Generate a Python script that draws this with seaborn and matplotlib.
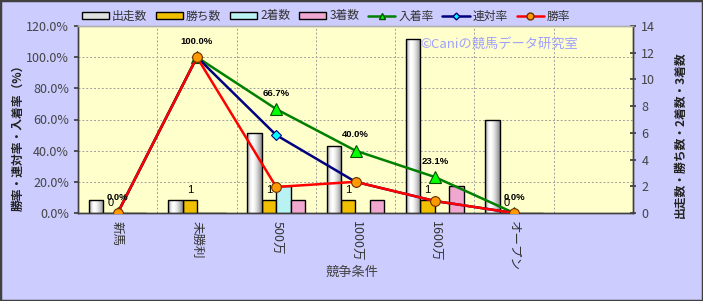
import numpy as np
import pandas as pd
import matplotlib
matplotlib.use("Agg")
import matplotlib.pyplot as plt
import seaborn as sns
from matplotlib.patches import Rectangle, Patch
from matplotlib.lines import Line2D

# ---- data ----
categories = ["新馬", "未勝利", "500万", "1000万", "1600万", "オープン"]
starts = [1, 1, 6, 5, 13, 7]
wins = [0, 1, 1, 1, 1, 0]
seconds = [0, 0, 2, 0, 0, 0]
thirds = [0, 0, 1, 1, 2, 0]
place_rate = [0.0, 100.0, 66.7, 40.0, 23.1, 0.0]
quinella_rate = [0.0, 100.0, 50.0, 20.0, 7.7, 0.0]
win_rate = [0.0, 100.0, 16.7, 20.0, 7.7, 0.0]
bar_series = ["出走数", "勝ち数", "2着数", "3着数"]
line_series = ["入着率", "連対率", "勝率"]
left_ticks = [0, 20, 40, 60, 80, 100, 120]
right_ticks = [0, 2, 4, 6, 8, 10, 12, 14]

bar_colors = ["#E0E0E0", "#F0C000", "#B8F2F2", "#F0A8D0"]

sns.set_theme(style="white")
plt.rcParams["font.family"] = ["Noto Sans CJK JP", "DejaVu Sans"]
plt.rcParams["axes.unicode_minus"] = False

W, H = 703, 301
fig = plt.figure(figsize=(W / 100, H / 100), dpi=100, facecolor="#CCCCFF")
L, R, T, B = 78, 633, 26, 213
ax = fig.add_axes([L / W, 1 - B / H, (R - L) / W, (B - T) / H])
ax.set_facecolor("#FFFFCC")
ax2 = ax.twinx()
ax3 = ax.twinx()

# ---- bars (right axis) ----
df = pd.DataFrame({
    "cat": categories * 4,
    "series": np.repeat(bar_series, len(categories)),
    "value": starts + wins + seconds + thirds,
})
sns.barplot(data=df, x="cat", y="value", hue="series", order=categories,
            hue_order=bar_series, palette=bar_colors, saturation=1,
            width=0.725, ax=ax2, edgecolor="black", linewidth=1.0,
            legend=False, errorbar=None)

# cylinder-like gradient for 出走数
grad = np.array([[0.62, 0.82, 0.95, 1.0, 0.98, 0.93, 0.86, 0.78, 0.68, 0.58]])
for p in ax2.containers[0]:
    x0, y0, w, h = p.get_x(), p.get_y(), p.get_width(), p.get_height()
    if h > 0:
        im = ax2.imshow(grad, extent=[x0, x0 + w, y0, y0 + h], aspect="auto",
                        cmap="gray", vmin=0, vmax=1, interpolation="bilinear",
                        zorder=p.get_zorder() + 0.01)
        im.set_clip_path(p)
        p.set_facecolor("none")
        p.set_zorder(p.get_zorder() + 0.02)

# count labels above 勝ち数 bars
for p, v in zip(ax2.containers[1], wins):
    ax2.annotate(f"{v}", (p.get_x() + p.get_width() / 2, p.get_height()),
                 xytext=(0, 7), textcoords="offset points", ha="center",
                 va="center", fontsize=8, color="black",
                 family=["Liberation Sans", "DejaVu Sans"])

ax2.set_ylim(0, 14)
ax2.set_yticks(right_ticks)
ax2.set_yticklabels([str(t) for t in right_ticks])
ax2.set_ylabel("")
ax2.set_xlabel("")

# ---- lines (left axis scale) ----
xs = np.arange(len(categories))
sns.lineplot(x=xs, y=place_rate, ax=ax3, color="#008000", linewidth=1.8,
             marker="^", markersize=8, markerfacecolor="#00FF00",
             markeredgecolor="#005000", markeredgewidth=0.8)
sns.lineplot(x=xs, y=quinella_rate, ax=ax3, color="#000080", linewidth=1.8,
             marker="D", markersize=5, markerfacecolor="#00FFFF",
             markeredgecolor="#000080", markeredgewidth=0.8)
sns.lineplot(x=xs, y=win_rate, ax=ax3, color="#FF0000", linewidth=1.8,
             marker="o", markersize=7, markerfacecolor="#FF9900",
             markeredgecolor="#703000", markeredgewidth=0.8)
for x, v in zip(xs, place_rate):
    ax3.annotate(f"{v:.1f}%", (x, v), xytext=(0, 11.5),
                 textcoords="offset points", ha="center", va="center",
                 fontsize=6.8, fontweight="bold", color="black",
                 family=["Liberation Sans", "DejaVu Sans"])
ax3.set_ylim(0, 120)
ax3.set_axis_off()

# ---- main axis styling ----
ax.set_ylim(0, 120)
ax.set_yticks(left_ticks)
ax.set_yticklabels([f"{t:.1f}%" for t in left_ticks])
ax.set_xlim(-0.5, 6.5)
ax.set_xticks(xs)
ax.set_xticklabels(categories, rotation=-90, va="top", ha="center")
ax.set_xticks(np.arange(0.5, 6.5, 1), minor=True)
ax.grid(False)
ax.grid(True, which="major", axis="y", color="#A0A0A0", linestyle=(0, (2, 2)), linewidth=0.7)
ax.grid(True, which="minor", axis="x", color="#A0A0A0", linestyle=(0, (2, 2)), linewidth=0.7)
ax.tick_params(axis="x", which="both", length=0, pad=6, labelsize=9, labelcolor="#333333")
ax.tick_params(axis="y", length=3, direction="out", labelsize=9, labelcolor="#444444", color="#404040", left=True)
ax2.tick_params(axis="y", length=4, direction="inout", labelsize=9, labelcolor="#444444", color="#404040", right=True, pad=4)
for a in (ax, ax2):
    for s in a.spines.values():
        s.set_color("#404040")
        s.set_linewidth(1.0)
    a.spines["top"].set_color("#B0B0B0")
ax2.set_xlim(-0.5, 6.5)
ax3.set_xlim(-0.5, 6.5)

# ---- texts ----
fig.text(18 / W, 1 - 135 / H, "勝率・連対率・入着率（%）", rotation=90, ha="center",
         va="center", fontsize=8.5, fontweight="bold", color="#222222")
fig.text(680 / W, 1 - 135 / H, "出走数・勝ち数・2着数・3着数", rotation=90, ha="center",
         va="center", fontsize=8.5, fontweight="bold", color="#222222")
fig.text(352 / W, 1 - 272 / H, "競争条件", ha="center", va="center", fontsize=9.5,
         color="#444444")
fig.text(420 / W, 1 - 44 / H, "©Caniの競馬データ研究室", ha="left", va="center",
         fontsize=9.5, color="#A0A0FF")

# ---- legend ----
handles = [Patch(facecolor=c, edgecolor="black", linewidth=1.0) for c in bar_colors]
handles += [
    Line2D([], [], color="#008000", lw=1.8, marker="^", markersize=5,
           markerfacecolor="#00FF00", markeredgecolor="#005000"),
    Line2D([], [], color="#000080", lw=1.8, marker="D", markersize=3.5,
           markerfacecolor="#00FFFF", markeredgecolor="#000080"),
    Line2D([], [], color="#FF0000", lw=1.8, marker="o", markersize=5,
           markerfacecolor="#FF9900", markeredgecolor="#703000"),
]
leg = fig.legend(handles, bar_series + line_series, loc="center",
                 bbox_to_anchor=(326 / W, 1 - 16 / H), ncol=7, frameon=False,
                 fontsize=8.5, handlelength=2.3, handleheight=0.55,
                 handletextpad=0.25, columnspacing=0.75, numpoints=1,
                 borderaxespad=0, borderpad=0)
for t in leg.get_texts():
    t.set_color("#333333")

fig.patches.append(Rectangle((0, 0), 1, 1, transform=fig.transFigure, fill=False,
                             edgecolor="#404040", linewidth=2.5))

fig.savefig("out.png", dpi=100, facecolor=fig.get_facecolor())
